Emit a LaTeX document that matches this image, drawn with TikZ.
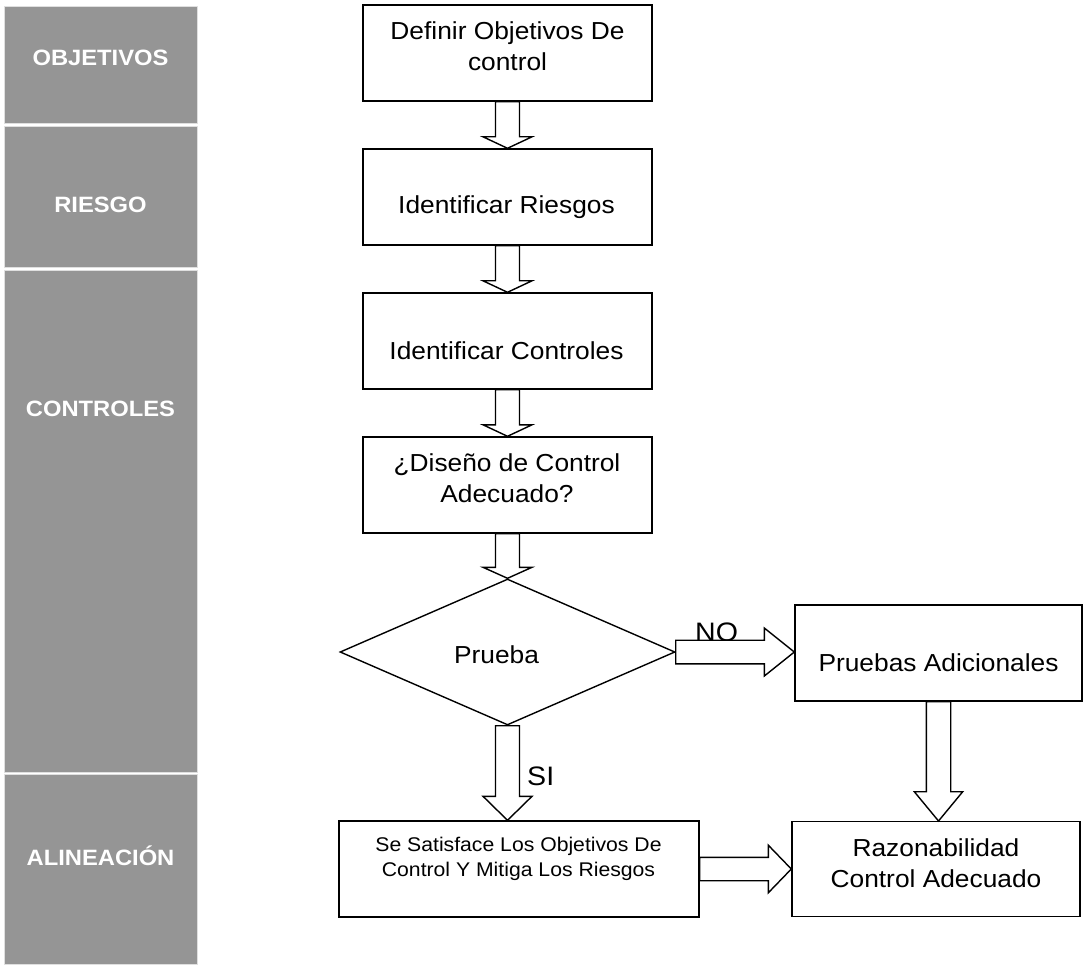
\documentclass[tikz,border=0pt]{standalone}
\usepackage{fontspec}
\setmainfont{Liberation Sans}[FakeStretch=1.07]
\usetikzlibrary{shapes.geometric,calc}
\definecolor{panelgray}{RGB}{149,149,149}
% vertical block arrow: start, tip, shaft half width, head half width, head length
\newcommand\vblockarrow[5]{%
  \draw[blockarrow] ($(#1)+(-#3,0)$) -- ($(#2)+(-#3,-#5)$) -- ($(#2)+(-#4,-#5)$) -- (#2)
    -- ($(#2)+(#4,-#5)$) -- ($(#2)+(#3,-#5)$) -- ($(#1)+(#3,0)$) -- cycle;}
% horizontal block arrow pointing right
\newcommand\hblockarrow[5]{%
  \draw[blockarrow] ($(#1)+(0,-#3)$) -- ($(#2)+(-#5,-#3)$) -- ($(#2)+(-#5,-#4)$) -- (#2)
    -- ($(#2)+(-#5,#4)$) -- ($(#2)+(-#5,#3)$) -- ($(#1)+(0,#3)$) -- cycle;}
\begin{document}
\begin{tikzpicture}[x=1pt,y=-1pt,
  panel/.style={rectangle, fill=panelgray, draw=gray!25, line width=0.8pt, inner sep=0pt, minimum width=193pt},
  paneltext/.style={anchor=base, text=white, inner sep=0pt, font=\fontsize{22.2}{26}\selectfont\bfseries},
  stepbox/.style={rectangle, draw=black, line width=1.4pt, fill=white, inner sep=0pt},
  boxtext/.style={anchor=base, inner sep=0pt, font=\fontsize{24.6}{30.7}\selectfont},
  smalltext/.style={anchor=base, inner sep=0pt, font=\fontsize{19.8}{24.7}\selectfont},
  tagtext/.style={anchor=base west, inner sep=0pt, font=\fontsize{26.7}{30}\selectfont},
  blockarrow/.style={draw=black, fill=white, line width=1.4pt, line join=miter},
]
\useasboundingbox (0,0) rectangle (1083,965);

% stage column
\node[panel, minimum height=117pt] (p1) at (100.5,64.5) {};
\node[panel, minimum height=141pt] (p2) at (100.5,196.5) {};
\node[panel, minimum height=502pt] (p3) at (100.5,521) {};
\node[panel, minimum height=190pt] (p4) at (100.5,869) {};
\node[paneltext] (l1) at (100.5,65.7) {OBJETIVOS};
\node[paneltext] (l2) at (100.5,213) {RIESGO};
\node[paneltext] (l3) at (100.5,416) {CONTROLES};
\node[paneltext] (l4) at (100.5,865) {ALINEACIÓN};

% process boxes
\node[stepbox, minimum width=289pt, minimum height=96pt] (b1) at (507.5,53) {};
\node[stepbox, minimum width=289pt, minimum height=96pt] (b2) at (507.5,197) {};
\node[stepbox, minimum width=289pt, minimum height=96pt] (b3) at (507.5,341) {};
\node[stepbox, minimum width=289pt, minimum height=96pt] (b4) at (507.5,485) {};
\node[diamond, draw=black, line width=1.4pt, fill=white, inner sep=0pt,
      minimum width=335pt, minimum height=146pt] (d) at (507.5,652) {};
\node[stepbox, minimum width=360pt, minimum height=96pt] (b5) at (519,869) {};
\node[stepbox, minimum width=287pt, minimum height=96pt] (b6) at (938.5,653) {};
\node[stepbox, minimum width=288pt, minimum height=95pt] (b7) at (936,869.2) {};

% box texts
\node[boxtext] (t1) at (507.5,40) {\begin{tabular}[t]{@{}c@{}}Definir Objetivos De\\control\end{tabular}};
\node[boxtext] (t2) at (506.5,214) {Identificar Riesgos};
\node[boxtext] (t3) at (506.5,359.3) {Identificar Controles};
\node[boxtext] (t4) at (507,471.7) {\begin{tabular}[t]{@{}c@{}}¿Diseño de Control\\Adecuado?\end{tabular}};
\node[boxtext] (t5) at (496.5,663.3) {Prueba};
\node[smalltext] (t6) at (518.5,851.3) {\begin{tabular}[t]{@{}c@{}}Se Satisface Los Objetivos De\\Control Y Mitiga Los Riesgos\end{tabular}};
\node[boxtext] (t7) at (938.5,671) {Pruebas Adicionales};
\node[boxtext] (t8) at (936,856.7) {\begin{tabular}[t]{@{}c@{}}Razonabilidad\\Control Adecuado\end{tabular}};

% branch labels
\node[tagtext] (no) at (695,641) {NO};
\node[tagtext] (si) at (527,785.7) {SI};

% connectors
\vblockarrow{b1.south}{b2.north}{12}{24.5}{11.5}
\vblockarrow{b2.south}{b3.north}{12}{24.5}{11.5}
\vblockarrow{b3.south}{b4.north}{12}{24.5}{11.5}
\vblockarrow{b4.south}{d.north}{12}{24.5}{11}
\coordinate (tipsi) at (d.south |- b5.north);
\vblockarrow{d.south}{tipsi}{12}{24.5}{24}
\coordinate (tipno) at (b6.west |- d.east);
\hblockarrow{d.east}{tipno}{11.8}{24}{30}
\coordinate (tipdown) at (b6.south |- b7.north);
\vblockarrow{b6.south}{tipdown}{12.2}{24.2}{29.3}
\coordinate (tipbottom) at (b7.west |- b5.east);
\hblockarrow{b5.east}{tipbottom}{11.7}{23.8}{23}
\end{tikzpicture}
\end{document}
